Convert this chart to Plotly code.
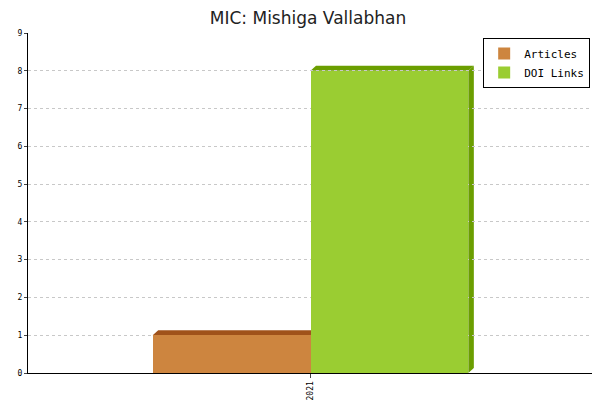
import plotly.graph_objects as go

categories = ["2021"]
series_names = ["Articles", "DOI Links"]
articles = [1]
doi_links = [8]
y_ticks = [0, 1, 2, 3, 4, 5, 6, 7, 8, 9]

face = ["#CD853F", "#9ACD32"]
dark = ["#A0521A", "#6B9E00"]

fig = go.Figure()
offsets = [-0.5, 0.5]
values = [articles, doi_links]
dx, dy = 0.035, 0.13
shapes = []
for i, (name, vals) in enumerate(zip(series_names, values)):
    xs = [j + offsets[i] for j in range(len(categories))]
    fig.add_trace(go.Bar(x=xs, y=vals, width=1.0, name=name, marker=dict(color=face[i], line=dict(width=0))))
    for x, v in zip(xs, vals):
        l, r = x - 0.5, x + 0.5
        shapes.append(dict(type="path", path=f"M{l},{v} L{l+dx},{v+dy} L{r+dx},{v+dy} L{r},{v} Z",
                           fillcolor=dark[i], line=dict(width=0), layer="below"))
        shapes.append(dict(type="path", path=f"M{r},{v} L{r+dx},{v+dy} L{r+dx},{dy} L{r},0 Z",
                           fillcolor=dark[i], line=dict(width=0), layer="below"))

fig.update_layout(
    width=600, height=400, margin=dict(l=20, r=15, t=25, b=35),
    paper_bgcolor="white", plot_bgcolor="white",
    title=dict(text="MIC: Mishiga Vallabhan", x=0.5, y=0.975, xanchor="center", yanchor="middle",
               font=dict(family="DejaVu Sans", size=17, color="#222")),
    shapes=shapes, bargap=0, showlegend=True,
    legend=dict(x=0.995, y=0.985, xanchor="right", yanchor="top", bordercolor="black", borderwidth=1,
                font=dict(family="DejaVu Sans Mono", size=11, color="black"), traceorder="normal",
                itemwidth=30, tracegroupgap=0),
    xaxis=dict(range=[-1.79, 1.79], tickvals=[0], ticktext=categories, tickangle=-90, automargin=False,
               tickfont=dict(family="DejaVu Sans Mono", size=8, color="black"), showgrid=False, showline=True,
               linecolor="black", ticks="outside", ticklen=4, zeroline=False),
    yaxis=dict(range=[0, 9], tickvals=y_ticks, automargin=False,
               tickfont=dict(family="DejaVu Sans Mono", size=8, color="black"),
               showgrid=True, gridcolor="#c8c8c8", griddash="dot", showline=True, linecolor="black",
               ticks="outside", ticklen=3, zeroline=False),
)
fig.write_html("out.html")
